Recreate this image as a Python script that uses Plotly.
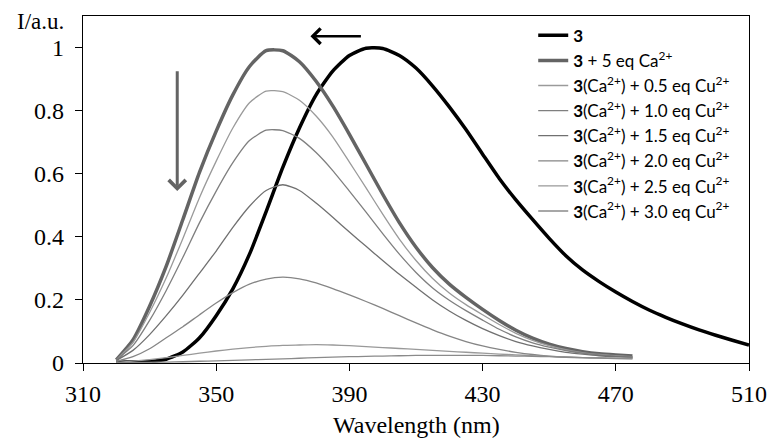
import plotly.graph_objects as go

# wavelength grids (nm)
wl_ca = list(range(320, 476, 5))
wl_free = list(range(320, 511, 5))

# series values (normalised intensity)
free_3 = [0.002, 0.003, 0.005, 0.012, 0.035, 0.08, 0.15, 0.235, 0.345, 0.48, 0.62, 0.745,
          0.85, 0.925, 0.975, 0.998, 0.997, 0.975, 0.935, 0.878, 0.812, 0.74, 0.662, 0.585,
          0.517, 0.455, 0.395, 0.34, 0.295, 0.258, 0.225, 0.195, 0.168, 0.145, 0.124, 0.105,
          0.088, 0.072, 0.057]
ca_5 = [0.01, 0.073, 0.18, 0.307, 0.455, 0.605, 0.735, 0.85, 0.94, 0.99, 0.99, 0.955,
        0.893, 0.815, 0.725, 0.63, 0.535, 0.445, 0.367, 0.302, 0.25, 0.208, 0.17, 0.135,
        0.104, 0.079, 0.06, 0.046, 0.036, 0.029, 0.025, 0.022]
cu_05 = [0.01, 0.065, 0.16, 0.27, 0.395, 0.525, 0.64, 0.745, 0.825, 0.862, 0.86, 0.833,
         0.783, 0.717, 0.637, 0.555, 0.472, 0.393, 0.325, 0.268, 0.222, 0.185, 0.153, 0.122,
         0.094, 0.072, 0.055, 0.042, 0.033, 0.027, 0.023, 0.02]
cu_10 = [0.01, 0.055, 0.135, 0.23, 0.335, 0.445, 0.545, 0.635, 0.705, 0.738, 0.737, 0.712,
         0.667, 0.61, 0.545, 0.478, 0.41, 0.345, 0.287, 0.238, 0.199, 0.166, 0.136, 0.107,
         0.083, 0.064, 0.05, 0.039, 0.031, 0.026, 0.022, 0.019]
cu_15 = [0.008, 0.04, 0.09, 0.15, 0.215, 0.285, 0.355, 0.43, 0.497, 0.547, 0.565, 0.547,
         0.507, 0.462, 0.415, 0.37, 0.325, 0.281, 0.24, 0.2, 0.165, 0.135, 0.109, 0.087,
         0.068, 0.054, 0.043, 0.034, 0.028, 0.023, 0.02, 0.018]
cu_20 = [0.005, 0.02, 0.045, 0.08, 0.115, 0.153, 0.19, 0.223, 0.25, 0.266, 0.272, 0.267,
         0.254, 0.236, 0.216, 0.195, 0.173, 0.15, 0.127, 0.105, 0.085, 0.068, 0.054, 0.043,
         0.034, 0.027, 0.022, 0.019, 0.017, 0.016, 0.015, 0.015]
cu_25 = [0.002, 0.006, 0.011, 0.017, 0.024, 0.031, 0.038, 0.044, 0.049, 0.053, 0.056, 0.057,
         0.058, 0.057, 0.055, 0.052, 0.049, 0.046, 0.043, 0.04, 0.037, 0.034, 0.031, 0.028,
         0.026, 0.023, 0.021, 0.019, 0.017, 0.016, 0.015, 0.014]
cu_30 = [0.001, 0.0015, 0.002, 0.003, 0.004, 0.0055, 0.007, 0.0085, 0.01, 0.0115, 0.013, 0.015,
         0.017, 0.0185, 0.02, 0.021, 0.022, 0.023, 0.024, 0.024, 0.024, 0.024, 0.024, 0.023,
         0.022, 0.021, 0.02, 0.018, 0.017, 0.0155, 0.014, 0.013]

x_ticks = [310, 350, 390, 430, 470, 510]
y_ticks = [0, 0.2, 0.4, 0.6, 0.8, 1]

cu_series = [
    ("0.5", cu_05, "#9a9a9a"),
    ("1.0", cu_10, "#7f7f7f"),
    ("1.5", cu_15, "#707070"),
    ("2.0", cu_20, "#858585"),
    ("2.5", cu_25, "#999999"),
    ("3.0", cu_30, "#8a8a8a"),
]

spl = dict(shape="spline", smoothing=0.6)
fig = go.Figure()
fig.add_trace(go.Scatter(x=wl_free, y=free_3, mode="lines", name="<b>3</b><sup> </sup>",
                         line=dict(color="#000000", width=3.5, **spl)))
fig.add_trace(go.Scatter(x=wl_ca, y=ca_5, mode="lines", name="<b>3</b> + 5 eq Ca<sup>2+</sup>",
                         line=dict(color="#646464", width=3.5, **spl)))
for eq, vals, col in cu_series:
    fig.add_trace(go.Scatter(x=wl_ca, y=vals, mode="lines",
                             name="<b>3</b>(Ca<sup>2+</sup>) + " + eq + " eq Cu<sup>2+</sup>",
                             line=dict(color=col, width=1.3, **spl)))

serif = "Times New Roman, Liberation Serif, serif"
fig.update_layout(
    width=779, height=439,
    margin=dict(l=83, r=24, t=16, b=76),
    paper_bgcolor="white", plot_bgcolor="white",
    showlegend=True,
    legend=dict(x=0.676, y=0.995, xanchor="left", yanchor="top",
                bgcolor="rgba(0,0,0,0)", font=dict(family="Lato", size=17, color="#000"),
                tracegroupgap=0, itemwidth=30),
    xaxis=dict(range=[310, 510], tickvals=x_ticks, ticks="outside", ticklen=7,
               tickcolor="#000", showline=True, linecolor="#000", linewidth=1.3,
               mirror=True, showgrid=False, zeroline=False, ticklabelstandoff=2,
               tickfont=dict(family=serif, size=24, color="#000")),
    yaxis=dict(range=[0, 1.1], tickvals=y_ticks, ticks="outside", ticklen=7,
               tickcolor="#000", showline=True, linecolor="#000", linewidth=1.3,
               mirror=True, showgrid=False, zeroline=False, ticklabelstandoff=6,
               tickfont=dict(family=serif, size=24, color="#000")),
    annotations=[
        dict(text="I/a.u.", xref="paper", yref="paper", x=-0.064, y=0.983,
             xanchor="center", yanchor="middle", showarrow=False,
             font=dict(family=serif, size=23, color="#000")),
        dict(text="Wavelength (nm)", xref="paper", yref="paper", x=0.5, y=-0.178,
             xanchor="center", yanchor="middle", showarrow=False,
             font=dict(family=serif, size=24, color="#000")),
        dict(x=338.3, y=0.545, ax=338.3, ay=0.93, xref="x", yref="y", axref="x", ayref="y",
             text="", showarrow=True, arrowhead=4, arrowsize=1.1, arrowwidth=3,
             arrowcolor="#646464"),
        dict(x=378.3, y=1.036, ax=393.9, ay=1.036, xref="x", yref="y", axref="x", ayref="y",
             text="", showarrow=True, arrowhead=4, arrowsize=1.2, arrowwidth=2.5,
             arrowcolor="#000000"),
    ],
)

fig.write_html("out.html")
